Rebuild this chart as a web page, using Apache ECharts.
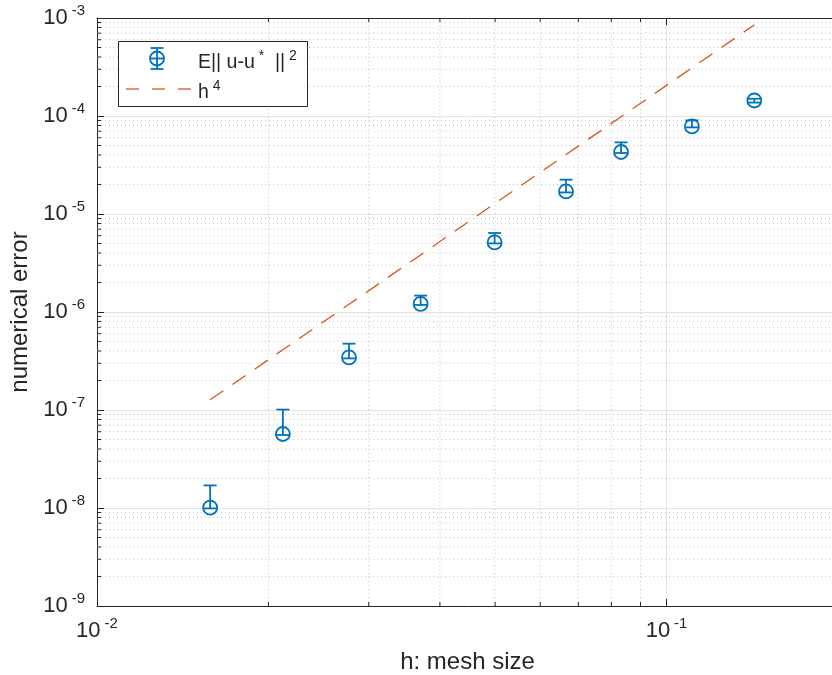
<!DOCTYPE html>
<html>
<head>
<meta charset="utf-8">
<script src="https://cdn.jsdelivr.net/npm/echarts@6/dist/echarts.min.js"></script>
<style>
html, body { margin: 0; padding: 0; overflow: hidden; background: #fff; }
#chart { width: 838px; height: 675px; }
</style>
</head>
<body>
<div id="chart"></div>
<script>
// values
var meshSize = [0.0158, 0.0212, 0.0277, 0.037, 0.0499, 0.0666, 0.0832, 0.1108, 0.1426];
var errMean  = [1.01e-8, 5.69e-8, 3.44e-7, 1.21e-6, 5.13e-6, 1.70e-5, 4.29e-5, 7.83e-5, 1.44e-4];
var errLow   = [0.99e-8, 5.56e-8, 3.36e-7, 1.18e-6, 5.01e-6, 1.66e-5, 4.19e-5, 7.65e-5, 1.37e-4];
var errHigh  = [1.70e-8, 1.01e-7, 4.75e-7, 1.47e-6, 6.40e-6, 2.24e-5, 5.38e-5, 9.02e-5, 1.50e-4];
var refH4    = [1.27e-7, 4.12e-7, 1.20e-6, 3.82e-6, 1.275e-5, 4.04e-5, 9.82e-5, 3.10e-4, 8.53e-4];

var xRange = [0.01, 0.2];
var yRange = [1e-9, 1e-3];

var axisColor = '#262626';
var blue = '#0072BD';
var orange = '#D95319';
var font = 'Liberation Sans, Arial, Helvetica, sans-serif';

// minor grid positions 2..9 per decade
var xMinor = [], yMinor = [];
for (var k = -2; k <= -1; k++) {
    for (var m = 2; m <= 9; m++) {
        var v = m * Math.pow(10, k);
        if (v < xRange[1] - 1e-9) xMinor.push(v);
    }
}
for (var k = -9; k <= -4; k++) {
    for (var m = 2; m <= 9; m++) yMinor.push(m * Math.pow(10, k));
}

function powLabel(value) {
    var e = Math.log(value) / Math.LN10;
    var r = Math.round(e);
    if (Math.abs(e - r) > 1e-6) return '';
    return '{b|10}{s|' + r + '}';
}

var labelRich = {
    b: { fontSize: 22, lineHeight: 30, fontFamily: font, color: axisColor },
    s: { fontSize: 15, lineHeight: 15, verticalAlign: 'top', padding: [0, 0, 0, 4], fontFamily: font, color: axisColor }
};

var myChart = echarts.init(document.getElementById('chart'));

var option = {
    animation: false,
    backgroundColor: '#fff',
    grid: { left: 97, top: 18, right: 0, bottom: 69, containLabel: false, outerBoundsMode: 'none' },
    xAxis: [{
        type: 'log', logBase: 10, min: xRange[0], max: xRange[1], position: 'bottom',
        axisLine: { show: true, lineStyle: { color: axisColor, width: 1 } },
        axisTick: { show: true, inside: true, length: 7, lineStyle: { color: axisColor } },
        axisLabel: { formatter: powLabel, rich: labelRich, margin: 10 },
        splitLine: { show: true, lineStyle: { color: '#e2e2e2', width: 1 } },
        name: 'h: mesh size', nameLocation: 'middle', nameGap: 44,
        nameTextStyle: { fontSize: 24, color: axisColor, fontFamily: font }
    }, {
        type: 'log', logBase: 10, min: xRange[0], max: xRange[1], position: 'top',
        axisLine: { show: true, lineStyle: { color: axisColor, width: 1 } },
        axisTick: { show: true, inside: true, length: 7, lineStyle: { color: axisColor } },
        axisLabel: { show: false },
        splitLine: { show: false }
    }],
    yAxis: [{
        type: 'log', logBase: 10, min: yRange[0], max: yRange[1],
        axisLine: { show: true, lineStyle: { color: axisColor, width: 1 } },
        axisTick: { show: true, inside: true, length: 7, lineStyle: { color: axisColor } },
        axisLabel: { formatter: powLabel, rich: labelRich, margin: 12 },
        splitLine: { show: true, lineStyle: { color: '#e2e2e2', width: 1 } },
        name: 'numerical error', nameLocation: 'middle', nameGap: 63, nameRotate: 90,
        nameTextStyle: { fontSize: 24, color: axisColor, fontFamily: font }
    }],
    series: [{
        // minor dotted grid and minor ticks
        type: 'custom', silent: true, z: 1,
        data: [[xRange[0], yRange[0]]],
        renderItem: function (params, api) {
            var kids = [];
            var dot = { stroke: '#c4c4c4', lineWidth: 1, lineDash: [1, 3] };
            var tick = { stroke: axisColor, lineWidth: 1 };
            xMinor.forEach(function (x) {
                var a = api.coord([x, yRange[0]]), b = api.coord([x, yRange[1]]);
                kids.push({ type: 'line', shape: { x1: a[0], y1: a[1], x2: b[0], y2: b[1] }, style: dot });
                kids.push({ type: 'line', shape: { x1: a[0], y1: a[1], x2: a[0], y2: a[1] - 4 }, style: tick });
                kids.push({ type: 'line', shape: { x1: b[0], y1: b[1], x2: b[0], y2: b[1] + 4 }, style: tick });
            });
            yMinor.forEach(function (y) {
                var a = api.coord([xRange[0], y]), b = api.coord([xRange[1], y]);
                kids.push({ type: 'line', shape: { x1: a[0], y1: a[1], x2: b[0], y2: b[1] }, style: dot });
                kids.push({ type: 'line', shape: { x1: a[0], y1: a[1], x2: a[0] + 4, y2: a[1] }, style: tick });
            });
            return { type: 'group', children: kids };
        }
    }, {
        name: 'h4', type: 'line', z: 3,
        data: meshSize.map(function (h, i) { return [h, refH4[i]]; }),
        symbol: 'none',
        lineStyle: { color: orange, width: 1.3, type: [16, 11] }
    }, {
        // error bars with circle markers
        name: 'err', type: 'custom', z: 4,
        data: meshSize.map(function (h, i) { return [h, errMean[i], errLow[i], errHigh[i]]; }),
        renderItem: function (params, api) {
            var c = api.coord([api.value(0), api.value(1)]);
            var lo = api.coord([api.value(0), api.value(2)]);
            var hi = api.coord([api.value(0), api.value(3)]);
            var w = 6.5;
            var st = { stroke: blue, lineWidth: 1.8, fill: null };
            return {
                type: 'group',
                children: [
                    { type: 'line', shape: { x1: c[0], y1: lo[1], x2: c[0], y2: hi[1] }, style: st },
                    { type: 'line', shape: { x1: c[0] - w, y1: hi[1], x2: c[0] + w, y2: hi[1] }, style: st },
                    { type: 'line', shape: { x1: c[0] - w, y1: lo[1], x2: c[0] + w, y2: lo[1] }, style: st },
                    { type: 'circle', shape: { cx: c[0], cy: c[1], r: 7 }, style: { stroke: blue, lineWidth: 1.8, fill: 'none' } }
                ]
            };
        }
    }],
    // legend box, drawn in pixels
    graphic: [
        { type: 'rect', z: 100, shape: { x: 118.5, y: 41.5, width: 189, height: 65 },
          style: { fill: '#fff', stroke: axisColor, lineWidth: 1 } },
        { type: 'line', z: 101, shape: { x1: 157, y1: 48, x2: 157, y2: 69 }, style: { stroke: blue, lineWidth: 1.8 } },
        { type: 'line', z: 101, shape: { x1: 150.5, y1: 48, x2: 163.5, y2: 48 }, style: { stroke: blue, lineWidth: 1.8 } },
        { type: 'line', z: 101, shape: { x1: 150.5, y1: 69, x2: 163.5, y2: 69 }, style: { stroke: blue, lineWidth: 1.8 } },
        { type: 'line', z: 101, shape: { x1: 150, y1: 58.5, x2: 164, y2: 58.5 }, style: { stroke: blue, lineWidth: 1.8 } },
        { type: 'circle', z: 101, shape: { cx: 157, cy: 58.5, r: 7 }, style: { stroke: blue, lineWidth: 1.8, fill: 'none' } },
        { type: 'line', z: 101, shape: { x1: 126, y1: 89, x2: 192, y2: 89 },
          style: { stroke: orange, lineWidth: 1.3, lineDash: [13, 13] } },
        { type: 'text', z: 101, x: 198, y: 63, style: {
            text: '{n|E|| u-u}{s| *}{n|  ||}{s| 2}', verticalAlign: 'middle',
            rich: {
                n: { fontSize: 19.5, lineHeight: 28, fontFamily: font, fill: axisColor },
                s: { fontSize: 14, lineHeight: 14, verticalAlign: 'top', fontFamily: font, fill: axisColor }
            }
        } },
        { type: 'text', z: 101, x: 198, y: 93, style: {
            text: '{n|h}{s| 4}', verticalAlign: 'middle',
            rich: {
                n: { fontSize: 19.5, lineHeight: 28, fontFamily: font, fill: axisColor },
                s: { fontSize: 14, lineHeight: 14, verticalAlign: 'top', fontFamily: font, fill: axisColor }
            }
        } }
    ]
};

myChart.setOption(option);
</script>
</body>
</html>
